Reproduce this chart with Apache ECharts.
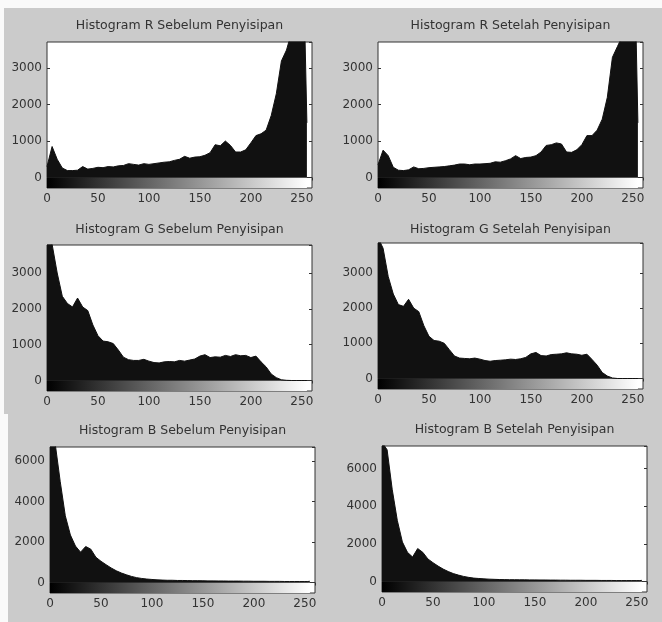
<!DOCTYPE html>
<html>
<head>
<meta charset="utf-8">
<script src="https://cdn.jsdelivr.net/npm/echarts@6/dist/echarts.min.js"></script>
<style>
  html, body { margin: 0; padding: 0; background: #cbcbcb; }
  #chart { width: 662px; height: 622px; }
</style>
</head>
<body>
<div id="chart"></div>
<script>
// Intensity levels (bin positions) shared by all six histograms
const levels = [0, 5, 10, 15, 20, 25, 30, 35, 40, 45, 50, 55, 60, 65, 70, 75, 80, 85, 90, 95,
  100, 105, 110, 115, 120, 125, 130, 135, 140, 145, 150, 155, 160, 165, 170, 175, 180, 185, 190, 195,
  200, 205, 210, 215, 220, 225, 230, 235, 240, 245, 250, 253, 255];

// Pixel counts per level, red channel
const rSebelum = [300, 850, 500, 260, 190, 190, 200, 300, 230, 250, 280, 270, 300, 290, 320, 330, 380, 360, 340, 380,
  360, 380, 400, 420, 430, 470, 500, 580, 530, 560, 570, 610, 680, 900, 870, 1000, 880, 700, 700, 760,
  950, 1150, 1200, 1300, 1700, 2300, 3200, 3500, 4000, 3900, 4200, 4000, 1500];
const rSetelah = [350, 750, 600, 280, 200, 190, 210, 290, 240, 250, 270, 280, 290, 300, 320, 340, 370, 370, 350, 370,
  370, 380, 390, 430, 420, 460, 510, 600, 520, 550, 560, 600, 700, 880, 900, 950, 920, 700, 690, 760,
  900, 1150, 1150, 1300, 1600, 2200, 3300, 3600, 3900, 4100, 4300, 4200, 1500];

// Green channel
const gSebelum = [4000, 3800, 3000, 2350, 2150, 2050, 2300, 2050, 1950, 1550, 1250, 1100, 1080, 1030, 850, 650, 580, 560, 560, 590,
  540, 500, 490, 520, 530, 520, 560, 540, 570, 600, 680, 720, 640, 660, 650, 700, 670, 720, 690, 700,
  640, 680, 520, 380, 180, 80, 20, 5, 0, 0, 0, 0, 0];
const gSetelah = [4000, 3700, 2900, 2400, 2100, 2050, 2250, 2000, 1900, 1500, 1200, 1080, 1060, 1000, 820, 640, 580, 570, 560, 580,
  550, 510, 490, 510, 520, 530, 550, 540, 560, 600, 700, 740, 650, 640, 680, 690, 700, 730, 700, 690,
  660, 690, 540, 380, 170, 70, 15, 0, 0, 0, 0, 0, 0];

// Blue channel
const bSebelum = [6900, 6900, 5000, 3300, 2350, 1800, 1500, 1780, 1650, 1250, 1050, 880, 720, 580, 470, 380, 300, 240, 200, 170,
  150, 130, 120, 110, 110, 100, 100, 95, 90, 90, 85, 80, 80, 75, 75, 70, 70, 70, 65, 65,
  60, 60, 60, 55, 55, 55, 50, 50, 50, 50, 50, 50, 60];
const bSetelah = [7400, 7000, 4900, 3250, 2100, 1550, 1300, 1750, 1550, 1200, 1000, 820, 660, 530, 420, 340, 270, 220, 180, 160,
  140, 125, 115, 105, 100, 95, 95, 90, 90, 85, 85, 80, 80, 75, 75, 70, 70, 65, 65, 65,
  60, 60, 60, 55, 55, 55, 50, 50, 50, 50, 50, 50, 60];

const titles = [
  'Histogram R Sebelum Penyisipan', 'Histogram R Setelah Penyisipan',
  'Histogram G Sebelum Penyisipan', 'Histogram G Setelah Penyisipan',
  'Histogram B Sebelum Penyisipan', 'Histogram B Setelah Penyisipan'
];
const counts = [rSebelum, rSetelah, gSebelum, gSetelah, bSebelum, bSetelah];
const yMaxes = [3720, 3720, 3780, 3850, 6700, 7200];
const yIntervals = [1000, 1000, 1000, 1000, 2000, 2000];
const xTickStep = 50;
const xMax = 260;
const grayRange = [0, 255];

// Placement of each histogram panel (plot box) and its title
const layout = [
  { left: 47, top: 42, titleY: 26 },
  { left: 378, top: 42, titleY: 26 },
  { left: 47, top: 245, titleY: 230 },
  { left: 378, top: 243, titleY: 230 },
  { left: 50, top: 447, titleY: 431 },
  { left: 382, top: 446, titleY: 430 }
];
const PLOT_W = 265, PLOT_H = 135.5, BAR_H = 10.5;
const FONT = 'DejaVu Sans';
const INK = '#333';
const plain = v => String(v);

const grids = [], xAxes = [], yAxes = [], series = [], graphics = [];

// Light strips along the top and left edges of the figure
graphics.push({ type: 'rect', z: -1, shape: { x: 0, y: 0, width: 662, height: 8 }, style: { fill: '#fafafa' } });
graphics.push({ type: 'rect', z: -1, shape: { x: 0, y: 0, width: 4, height: 414 }, style: { fill: '#fafafa' } });
graphics.push({ type: 'rect', z: -1, shape: { x: 0, y: 414, width: 8, height: 208 }, style: { fill: '#fafafa' } });

layout.forEach((pos, i) => {
  const hg = grids.length;
  // histogram axes
  grids.push({ left: pos.left, top: pos.top, width: PLOT_W, height: PLOT_H, show: true,
    backgroundColor: '#fff', borderColor: INK, borderWidth: 1 });
  // grayscale bar axes beneath it
  grids.push({ left: pos.left, top: pos.top + PLOT_H, width: PLOT_W, height: BAR_H, show: true,
    backgroundColor: '#fff', borderColor: INK, borderWidth: 1 });

  const xi = xAxes.length;
  xAxes.push({ gridIndex: hg, type: 'value', min: 0, max: xMax, interval: xTickStep, position: 'top',
    axisLine: { show: false }, axisTick: { inside: true, length: 3, lineStyle: { color: INK } },
    axisLabel: { show: false }, splitLine: { show: false } });
  xAxes.push({ gridIndex: hg + 1, type: 'value', min: 0, max: xMax, interval: xTickStep, position: 'bottom',
    axisLine: { show: false }, axisTick: { show: false },
    axisLabel: { margin: 5, showMaxLabel: false, formatter: plain, fontFamily: FONT, fontSize: 12, color: INK },
    splitLine: { show: false } });

  const yi = yAxes.length;
  yAxes.push({ gridIndex: hg, type: 'value', min: 0, max: yMaxes[i], interval: yIntervals[i], position: 'left',
    axisLine: { show: false }, axisTick: { inside: true, length: 3, lineStyle: { color: INK } },
    axisLabel: { margin: 5, showMaxLabel: false, formatter: plain, fontFamily: FONT, fontSize: 12, color: INK },
    splitLine: { show: false } });
  yAxes.push({ gridIndex: hg, type: 'value', min: 0, max: yMaxes[i], interval: yIntervals[i], position: 'right',
    axisLine: { show: false }, axisTick: { inside: true, length: 3, lineStyle: { color: INK } },
    axisLabel: { show: false }, splitLine: { show: false } });
  yAxes.push({ gridIndex: hg + 1, type: 'value', min: 0, max: 1, show: false });

  series.push({
    type: 'line', xAxisIndex: xi, yAxisIndex: yi,
    data: levels.map((lv, k) => [lv, counts[i][k]]),
    symbol: 'none', clip: true, silent: true,
    lineStyle: { width: 1, color: '#111' },
    areaStyle: { color: '#111', opacity: 1 }
  });
  series.push({
    type: 'line', xAxisIndex: xi + 1, yAxisIndex: yi + 2,
    data: grayRange.map(g => [g, 1]),
    symbol: 'none', silent: true,
    lineStyle: { width: 0 },
    areaStyle: {
      opacity: 1,
      color: new echarts.graphic.LinearGradient(0, 0, 1, 0, [
        { offset: 0, color: '#000' }, { offset: 1, color: '#fff' }
      ])
    }
  });

  graphics.push({ type: 'text', x: pos.left + PLOT_W / 2, y: pos.titleY,
    style: { text: titles[i], align: 'center', verticalAlign: 'middle',
      font: '12.5px "' + FONT + '"', fill: INK } });
});

const chart = echarts.init(document.getElementById('chart'), null, { renderer: 'canvas' });
chart.setOption({
  animation: false,
  backgroundColor: '#cbcbcb',
  grid: grids,
  xAxis: xAxes,
  yAxis: yAxes,
  series: series,
  graphic: graphics
});
</script>
</body>
</html>
